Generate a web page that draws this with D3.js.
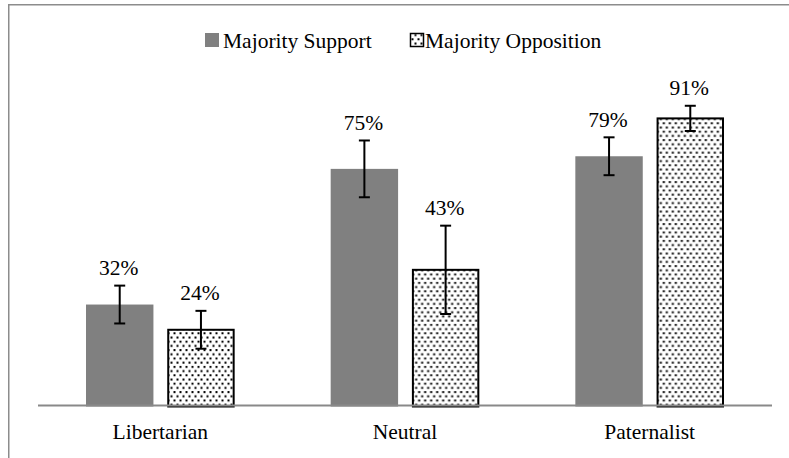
<!DOCTYPE html>
<html>
<head>
<meta charset="utf-8">
<script src="https://cdn.jsdelivr.net/npm/d3@7"></script>
<style>
  html, body { margin: 0; padding: 0; background: #fff; }
  svg { display: block; font-family: "Liberation Serif", "Times New Roman", serif; }
</style>
</head>
<body>
<svg id="chart" width="789" height="458"></svg>
<script>
const categories = ["Libertarian", "Neutral", "Paternalist"];
const seriesNames = ["Majority Support", "Majority Opposition"];
const supportValues = [32, 75, 79];
const oppositionValues = [24, 43, 91];
const supportErrors = [6, 9, 6];
const oppositionErrors = [6, 14, 4];

const W = 789, H = 458;
const svg = d3.select("#chart");

const defs = svg.append("defs");
const pat = defs.append("pattern")
  .attr("id", "dots").attr("patternUnits", "userSpaceOnUse")
  .attr("width", 6).attr("height", 8.4);
pat.append("rect").attr("width", 6).attr("height", 8.4).attr("fill", "#fff");
pat.append("rect").attr("x", 0.5).attr("y", 0.5).attr("width", 2).attr("height", 2).attr("fill", "#000");
pat.append("rect").attr("x", 3.5).attr("y", 4.7).attr("width", 2).attr("height", 2).attr("fill", "#000");

// outer border (extends beyond right/bottom edge)
svg.append("rect")
  .attr("x", 8.75).attr("y", 4.75).attr("width", 900).attr("height", 600)
  .attr("fill", "none").attr("stroke", "#8c8c8c").attr("stroke-width", 1.5);

const x0 = d3.scaleBand().domain(categories).range([38, 772]).paddingInner(0).paddingOuter(0);
const x1 = d3.scaleBand().domain(seriesNames)
  .range([48, x0.bandwidth() - 48]).paddingInner(0.17).paddingOuter(0);
const y = d3.scaleLinear().domain([0, 100]).range([405.5, 90]);

const data = categories.map((c, i) => ({
  cat: c,
  items: [
    { s: seriesNames[0], v: supportValues[i], e: supportErrors[i] },
    { s: seriesNames[1], v: oppositionValues[i], e: oppositionErrors[i] }
  ]
}));

const groups = svg.selectAll("g.grp").data(data).join("g")
  .attr("class", "grp")
  .attr("transform", d => `translate(${x0(d.cat)},0)`);

groups.selectAll("rect.bar").data(d => d.items).join("rect")
  .attr("class", "bar")
  .attr("x", d => x1(d.s) + (d.s === seriesNames[1] ? 1 : 0))
  .attr("width", d => x1.bandwidth() - (d.s === seriesNames[1] ? 2 : 0))
  .attr("y", d => y(d.v))
  .attr("height", d => y(0) - y(d.v) + 1)
  .attr("fill", d => d.s === seriesNames[0] ? "#808080" : "url(#dots)")
  .attr("stroke", d => d.s === seriesNames[0] ? "none" : "#000")
  .attr("stroke-width", 2);

// axis line
svg.append("line")
  .attr("x1", 38).attr("x2", 772).attr("y1", y(0)).attr("y2", y(0))
  .attr("stroke", "#898989").attr("stroke-width", 2);

// error bars
const eb = groups.selectAll("g.err").data(d => d.items).join("g")
  .attr("class", "err")
  .attr("transform", d => `translate(${x1(d.s) + x1.bandwidth() / 2},0)`);
eb.append("line").attr("x1", 0).attr("x2", 0)
  .attr("y1", d => y(d.v + d.e)).attr("y2", d => y(d.v - d.e))
  .attr("stroke", "#000").attr("stroke-width", 2);
eb.append("line").attr("x1", -5.5).attr("x2", 5.5)
  .attr("y1", d => y(d.v + d.e)).attr("y2", d => y(d.v + d.e))
  .attr("stroke", "#000").attr("stroke-width", 2);
eb.append("line").attr("x1", -5.5).attr("x2", 5.5)
  .attr("y1", d => y(d.v - d.e)).attr("y2", d => y(d.v - d.e))
  .attr("stroke", "#000").attr("stroke-width", 2);

// value labels
groups.selectAll("text.val").data(d => d.items).join("text")
  .attr("class", "val")
  .attr("x", d => x1(d.s) + x1.bandwidth() / 2 - 1)
  .attr("y", d => y(d.v + d.e) - 10.5)
  .attr("text-anchor", "middle")
  .attr("font-size", "21.5px")
  .attr("fill", "#000")
  .text(d => d.v + "%");

// category labels
svg.selectAll("text.cat").data(categories).join("text")
  .attr("class", "cat")
  .attr("x", d => x0(d) + x0.bandwidth() / 2)
  .attr("y", 439)
  .attr("text-anchor", "middle")
  .attr("font-size", "21.5px")
  .attr("fill", "#000")
  .text(d => d);

// legend
const legend = svg.append("g");
const legX = [205, 410];
seriesNames.forEach((s, i) => {
  legend.append("rect")
    .attr("x", legX[i] + (i ? 0.5 : 0)).attr("y", 33 + (i ? 0.5 : 0))
    .attr("width", i ? 13 : 14).attr("height", i ? 13 : 14)
    .attr("fill", i ? "url(#dots)" : "#808080")
    .attr("stroke", i ? "#000" : "none").attr("stroke-width", 1.5);
  legend.append("text")
    .attr("x", legX[i] + (i ? 15 : 18)).attr("y", 48)
    .attr("font-size", "21.5px").attr("fill", "#000")
    .text(s);
});
</script>
</body>
</html>
